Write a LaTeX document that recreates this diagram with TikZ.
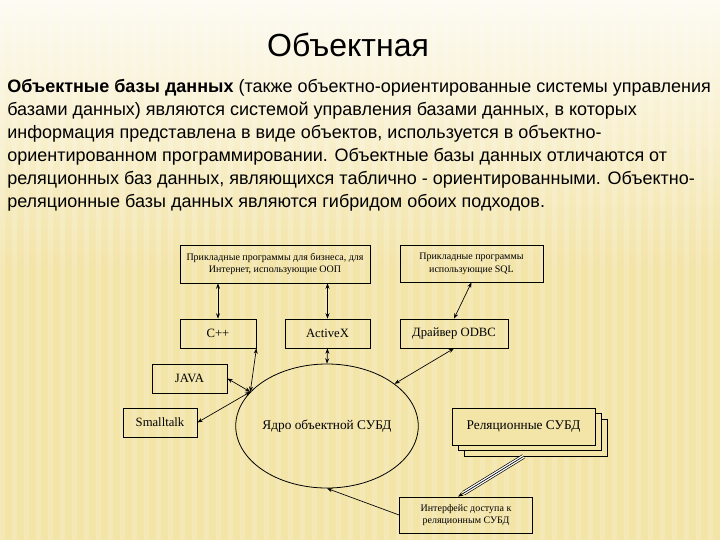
\documentclass[tikz,border=0pt]{standalone}
\usepackage{fontspec}
\setmainfont{Liberation Serif}
\newfontfamily\slidefont{Liberation Sans}
\usetikzlibrary{arrows.meta,shapes.geometric,calc}

\definecolor{bgtop}{RGB}{253,251,242}
\definecolor{bgbot}{RGB}{243,228,168}

\tikzset{
  blk/.style={draw, line width=0.6pt, align=center, inner sep=0pt,
    font=\fontsize{7.5}{9.5}\selectfont},
  para/.style={anchor=west, inner sep=0pt, font=\slidefont\fontsize{13.5}{16}\selectfont},
  link/.style={{Stealth[length=4pt,width=3pt]}-{Stealth[length=4pt,width=3pt]}, line width=0.5pt},
  tolink/.style={-{Stealth[length=4pt,width=3pt]}, line width=0.5pt},
}

\begin{document}
\begin{tikzpicture}[x=0.75pt,y=0.75pt,yscale=-1,xscale=1]
\useasboundingbox (0,0) rectangle (720,540);

%Background
\shade[top color=bgtop, bottom color=bgbot] (0,0) rectangle (720,270);
\fill[bgbot] (0,270) rectangle (720,540);
\foreach \i in {0,12,...,720}
  \fill[white, opacity=0.18] (\i,0) rectangle (\i+5,540);

% Title and text
\node[font=\slidefont\fontsize{24}{28}\selectfont] (title) at (348,45) {Объектная};
\node[para] (par1) at (7,88) {\textbf{Объектные базы данных} (также объектно-ориентированные системы управления};
\node[para] (par2) at (7,111) {базами данных) являются системой управления базами данных, в которых};
\node[para] (par3) at (7,134) {информация представлена в виде объектов, используется в объектно-};
\node[para] (par4) at (7,157) {ориентированном программировании. Объектные базы данных отличаются от};
\node[para] (par5) at (7,180) {реляционных баз данных, являющихся таблично - ориентированными. Объектно-};
\node[para] (par6) at (7,203) {реляционные базы данных являются гибридом обоих подходов.};

%Shape: Rectangles
\node[blk, minimum width=142.5pt, minimum height=28.5pt] (apps) at (275,264)
  {Прикладные программы для бизнеса, для\\Интернет, использующие ООП};
\node[blk, minimum width=107.25pt, minimum height=27.75pt] (sqlapps) at (471.5,263.5)
  {Прикладные программы\\использующие SQL};
\node[blk, minimum width=57pt, minimum height=21.75pt, font=\fontsize{9.5}{11}\selectfont] (cpp) at (218,333.5) {C++};
\node[blk, minimum width=63.75pt, minimum height=21.75pt, font=\fontsize{9.5}{11}\selectfont] (activex) at (327.5,333.5) {ActiveX};
\node[blk, minimum width=81pt, minimum height=21.75pt, font=\fontsize{9.5}{11}\selectfont] (odbc) at (454,333.5) {Драйвер ODBC};
\node[blk, minimum width=56.25pt, minimum height=21.75pt, font=\fontsize{9.5}{11}\selectfont] (java) at (189.5,378.5) {JAVA};
\node[blk, minimum width=55.5pt, minimum height=21.75pt, font=\fontsize{9.5}{11}\selectfont] (smalltalk) at (160,422.5) {Smalltalk};

%Shape: Ellipse
\node[blk, ellipse, minimum width=133.5pt, minimum height=93pt, font=\fontsize{10}{12}\selectfont] (core) at (327,426) {Ядро объектной СУБД};

%Shape: stacked rectangles
\node[blk, fill=bgbot, minimum width=107.25pt, minimum height=27.75pt] (rel3) at (535.5,437.5) {};
\node[blk, fill=bgbot, minimum width=107.25pt, minimum height=27.75pt] (rel2) at (529.5,432) {};
\node[blk, fill=bgbot, minimum width=107.25pt, minimum height=27.75pt, font=\fontsize{10}{12}\selectfont] (rel) at (523.5,426.5) {Реляционные СУБД};

\node[blk, minimum width=99.75pt, minimum height=27pt] (iface) at (466,515)
  {Интерфейс доступа к\\реляционным СУБД};

%Straight Lines
\draw[link] (cpp.north |- apps.south) -- (cpp.north);
\draw[link] (activex.north |- apps.south) -- (activex.north);
\draw[link] (sqlapps.south) -- (odbc.north);
\draw[link] (cpp.south east) -- (core.156);
\draw[link] (java.east) -- (core.156);
\draw[link] (smalltalk.east) -- (core.156);
\draw[link] (activex.south) -- (core.north);
\draw[link] (odbc.south) -- (core.32);
\coordinate (ifacein) at ($(iface.north)+(-8,0)$);
\draw[double, double distance=2.5pt, line width=0.5pt, shorten >=5pt] (rel3.south -| rel.south) -- (ifacein);
\draw[tolink] (rel3.south -| rel.south) -- (ifacein);
\draw[tolink] (iface.west) -- (core.south);

\end{tikzpicture}
\end{document}
